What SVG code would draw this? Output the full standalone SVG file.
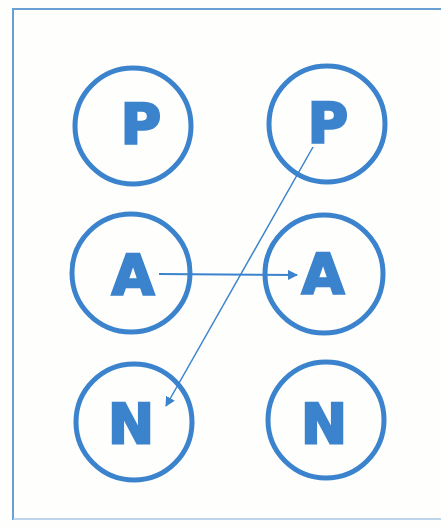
<svg xmlns="http://www.w3.org/2000/svg" width="441" height="529" viewBox="0 0 441 529">
<style>
.ring{fill:none;stroke:#3b83cc;stroke-width:5}
.lbl{font-family:"DejaVu Sans","Liberation Sans",sans-serif;font-weight:bold;font-size:55px;fill:#3b83cc;stroke:#3b83cc;stroke-width:2.5;text-anchor:middle}
.con{stroke:#3b83cc;fill:none}
</style>
<defs>
<marker id="ah" viewBox="0 0 10 10" refX="9" refY="5" markerWidth="10" markerHeight="10" markerUnits="userSpaceOnUse" orient="auto">
<path d="M0,0 L10,5 L0,10 Z" fill="#3b83cc"/>
</marker>
</defs>
<rect x="0" y="0" width="441" height="529" fill="#fefefd"/>
<path d="M13,520 L13,9 L441,9" fill="none" stroke="#6a9fd6" stroke-width="2"/>
<line x1="13" y1="519" x2="441" y2="519" stroke="#a9c6e6" stroke-width="1.5"/>
<g id="p1"><circle class="ring" cx="133" cy="126" r="58"/><text class="lbl" x="141" y="143">P</text></g>
<g id="p2"><circle class="ring" cx="327" cy="124" r="58"/><text class="lbl" x="328" y="142">P</text></g>
<g id="a1"><circle class="ring" cx="131" cy="273" r="59"/><text class="lbl" x="133" y="294">A</text></g>
<g id="a2"><circle class="ring" cx="324" cy="274" r="59"/><text class="lbl" x="323" y="293">A</text></g>
<g id="n1"><circle class="ring" cx="134" cy="422" r="58"/><text class="lbl" x="131" y="443">N</text></g>
<g id="n2"><circle class="ring" cx="326" cy="420" r="58"/><text class="lbl" x="324" y="443">N</text></g>
<g id="connectors">
<line class="con" x1="159" y1="274" x2="297" y2="275" stroke-width="2" marker-end="url(#ah)"/>
<line class="con" x1="313" y1="147" x2="166" y2="406" stroke-width="1.5" marker-end="url(#ah)"/>
</g>
</svg>
